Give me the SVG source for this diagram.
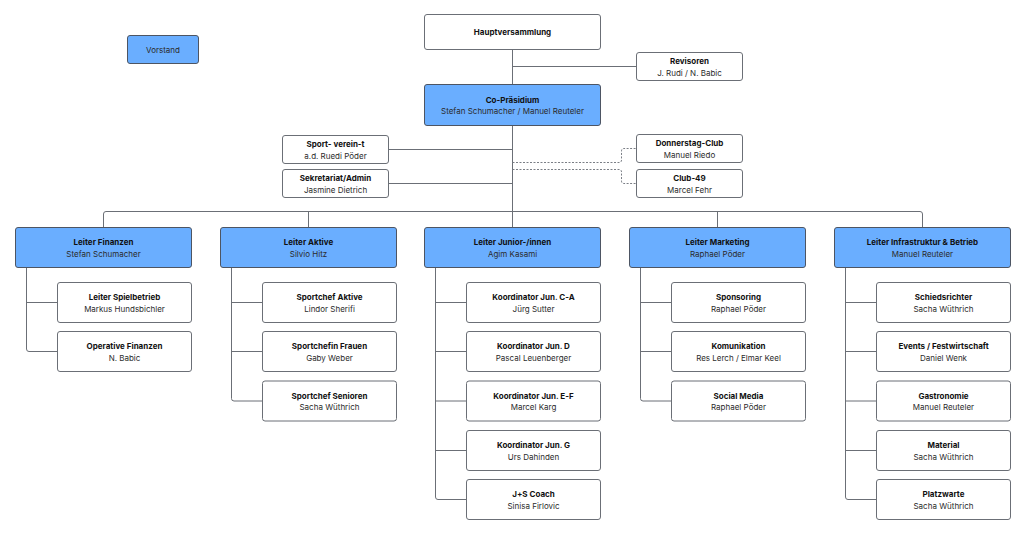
<svg xmlns="http://www.w3.org/2000/svg" width="1024" height="535" viewBox="0 0 1024 535">
<style>
.bg{fill:#ffffff}
.box{fill:#ffffff;stroke:#6b6f76;stroke-width:1}
.lead{fill:#6aaeff;stroke:#4d5563;stroke-width:1}
.ln{fill:none;stroke:#6b6f76;stroke-width:1}
.dash{fill:none;stroke:#7a7e85;stroke-width:1;stroke-dasharray:2 1.5}
text{font-family:Inter,"Liberation Sans",sans-serif;font-size:8px;text-anchor:middle}
.t{font-weight:700;fill:#111111}
.s{fill:#2b2b2b}
</style>
<rect class="bg" x="0" y="0" width="1024" height="535"/>
<g id="connectors">
<path class="ln" d="M512.5 49 V84"/>
<path class="ln" d="M512.5 66.5 H636"/>
<path class="ln" d="M512.5 125 V227"/>
<path class="ln" d="M389 149.5 H512.5"/>
<path class="ln" d="M389 183.5 H512.5"/>
<path class="dash" d="M512.5 162.5 H619 Q621.5 162.5 621.5 160 V151 Q621.5 148.5 624 148.5 H636"/>
<path class="dash" d="M512.5 169.5 H619 Q621.5 169.5 621.5 172 V181 Q621.5 183.5 624 183.5 H636"/>
<path class="ln" d="M103.5 227 V214 Q103.5 211.5 106 211.5 H920 Q922.5 211.5 922.5 214 V227"/>
<path class="ln" d="M308.5 211.5 V227"/>
<path class="ln" d="M717.5 211.5 V227"/>
<path class="ln" d="M26.5 267 V349 Q26.5 351.5 29 351.5 H57 M26.5 302.5 H57"/>
<path class="ln" d="M231.5 267 V398.5 Q231.5 401 234 401 H262 M231.5 302.5 H262 M231.5 351.5 H262"/>
<path class="ln" d="M435.5 267 V497 Q435.5 499.5 438 499.5 H466 M435.5 302.5 H466 M435.5 351.5 H466 M435.5 401 H466 M435.5 450.5 H466"/>
<path class="ln" d="M640.5 267 V398.5 Q640.5 401 643 401 H671 M640.5 302.5 H671 M640.5 351.5 H671"/>
<path class="ln" d="M845.5 267 V497 Q845.5 499.5 848 499.5 H876 M845.5 302.5 H876 M845.5 351.5 H876 M845.5 401 H876 M845.5 450.5 H876"/>
</g>
<g id="vorstand"><rect class="lead" x="127.5" y="35.5" width="71" height="28" rx="2.5"/><text class="s" x="163" y="52.5">Vorstand</text></g>
<g id="hauptversammlung"><rect class="box" x="424.5" y="14.5" width="176" height="35" rx="2.5"/><text class="t" x="512.5" y="35">Hauptversammlung</text></g>
<g id="revisoren"><rect class="box" x="636.5" y="52.5" width="106" height="28" rx="2.5"/><text class="t" x="689.5" y="64">Revisoren</text><text class="s" x="689.5" y="75.5">J. Rudi / N. Babic</text></g>
<g id="copraesidium"><rect class="lead" x="424.5" y="84.5" width="176" height="41" rx="2.5"/><text class="t" x="512.5" y="102.5">Co-Präsidium</text><text class="s" x="512.5" y="114">Stefan Schumacher / Manuel Reuteler</text></g>
<g id="sportvereint"><rect class="box" x="282.5" y="135.5" width="106" height="28" rx="2.5"/><text class="t" x="335.5" y="147">Sport- verein-t</text><text class="s" x="335.5" y="158.5">a.d. Ruedi Pöder</text></g>
<g id="sekretariat"><rect class="box" x="282.5" y="169.5" width="106" height="28" rx="2.5"/><text class="t" x="335.5" y="181">Sekretariat/Admin</text><text class="s" x="335.5" y="192.5">Jasmine Dietrich</text></g>
<g id="donnerstagclub"><rect class="box" x="636.5" y="134.5" width="106" height="28" rx="2.5"/><text class="t" x="689.5" y="146">Donnerstag-Club</text><text class="s" x="689.5" y="157.5">Manuel Riedo</text></g>
<g id="club49"><rect class="box" x="636.5" y="169.5" width="106" height="28" rx="2.5"/><text class="t" x="689.5" y="181">Club-49</text><text class="s" x="689.5" y="192.5">Marcel Fehr</text></g>

<g id="leiter-finanzen"><rect class="lead" x="15.5" y="227.5" width="176" height="40" rx="2.5"/><text class="t" x="103.5" y="245">Leiter Finanzen</text><text class="s" x="103.5" y="256.5">Stefan Schumacher</text></g>
<g id="leiter-aktive"><rect class="lead" x="220.5" y="227.5" width="176" height="40" rx="2.5"/><text class="t" x="308.5" y="245">Leiter Aktive</text><text class="s" x="308.5" y="256.5">Silvio Hitz</text></g>
<g id="leiter-junior"><rect class="lead" x="424.5" y="227.5" width="176" height="40" rx="2.5"/><text class="t" x="512.5" y="245">Leiter Junior-/innen</text><text class="s" x="512.5" y="256.5">Agim Kasami</text></g>
<g id="leiter-marketing"><rect class="lead" x="629.5" y="227.5" width="176" height="40" rx="2.5"/><text class="t" x="717.5" y="245">Leiter Marketing</text><text class="s" x="717.5" y="256.5">Raphael Pöder</text></g>
<g id="leiter-infrastruktur"><rect class="lead" x="834.5" y="227.5" width="176" height="40" rx="2.5"/><text class="t" x="922.5" y="245">Leiter Infrastruktur &amp; Betrieb</text><text class="s" x="922.5" y="256.5">Manuel Reuteler</text></g>

<g id="spielbetrieb"><rect class="box" x="57.5" y="282.5" width="134" height="40" rx="2.5"/><text class="t" x="124.5" y="300">Leiter Spielbetrieb</text><text class="s" x="124.5" y="311.5">Markus Hundsbichler</text></g>
<g id="opfinanzen"><rect class="box" x="57.5" y="331.5" width="134" height="40" rx="2.5"/><text class="t" x="124.5" y="349">Operative Finanzen</text><text class="s" x="124.5" y="360.5">N. Babic</text></g>

<g id="sc-aktive"><rect class="box" x="262.5" y="282.5" width="134" height="40" rx="2.5"/><text class="t" x="329.5" y="300">Sportchef Aktive</text><text class="s" x="329.5" y="311.5">Lindor Sherifi</text></g>
<g id="sc-frauen"><rect class="box" x="262.5" y="331.5" width="134" height="40" rx="2.5"/><text class="t" x="329.5" y="349">Sportchefin Frauen</text><text class="s" x="329.5" y="360.5">Gaby Weber</text></g>
<g id="sc-senioren"><rect class="box" x="262.5" y="381" width="134" height="40" rx="2.5"/><text class="t" x="329.5" y="398.5">Sportchef Senioren</text><text class="s" x="329.5" y="410">Sacha Wüthrich</text></g>

<g id="kj-ca"><rect class="box" x="466.5" y="282.5" width="134" height="40" rx="2.5"/><text class="t" x="533.5" y="300">Koordinator Jun. C-A</text><text class="s" x="533.5" y="311.5">Jürg Sutter</text></g>
<g id="kj-d"><rect class="box" x="466.5" y="331.5" width="134" height="40" rx="2.5"/><text class="t" x="533.5" y="349">Koordinator Jun. D</text><text class="s" x="533.5" y="360.5">Pascal Leuenberger</text></g>
<g id="kj-ef"><rect class="box" x="466.5" y="381" width="134" height="40" rx="2.5"/><text class="t" x="533.5" y="398.5">Koordinator Jun. E-F</text><text class="s" x="533.5" y="410">Marcel Karg</text></g>
<g id="kj-g"><rect class="box" x="466.5" y="430.5" width="134" height="40" rx="2.5"/><text class="t" x="533.5" y="448">Koordinator Jun. G</text><text class="s" x="533.5" y="459.5">Urs Dahinden</text></g>
<g id="js-coach"><rect class="box" x="466.5" y="479.5" width="134" height="40" rx="2.5"/><text class="t" x="533.5" y="497">J+S Coach</text><text class="s" x="533.5" y="508.5">Sinisa Firlovic</text></g>

<g id="sponsoring"><rect class="box" x="671.5" y="282.5" width="134" height="40" rx="2.5"/><text class="t" x="738.5" y="300">Sponsoring</text><text class="s" x="738.5" y="311.5">Raphael Pöder</text></g>
<g id="komunikation"><rect class="box" x="671.5" y="331.5" width="134" height="40" rx="2.5"/><text class="t" x="738.5" y="349">Komunikation</text><text class="s" x="738.5" y="360.5">Res Lerch / Elmar Keel</text></g>
<g id="socialmedia"><rect class="box" x="671.5" y="381" width="134" height="40" rx="2.5"/><text class="t" x="738.5" y="398.5">Social Media</text><text class="s" x="738.5" y="410">Raphael Pöder</text></g>

<g id="schiedsrichter"><rect class="box" x="876.5" y="282.5" width="134" height="40" rx="2.5"/><text class="t" x="943.5" y="300">Schiedsrichter</text><text class="s" x="943.5" y="311.5">Sacha Wüthrich</text></g>
<g id="events"><rect class="box" x="876.5" y="331.5" width="134" height="40" rx="2.5"/><text class="t" x="943.5" y="349">Events / Festwirtschaft</text><text class="s" x="943.5" y="360.5">Daniel Wenk</text></g>
<g id="gastronomie"><rect class="box" x="876.5" y="381" width="134" height="40" rx="2.5"/><text class="t" x="943.5" y="398.5">Gastronomie</text><text class="s" x="943.5" y="410">Manuel Reuteler</text></g>
<g id="material"><rect class="box" x="876.5" y="430.5" width="134" height="40" rx="2.5"/><text class="t" x="943.5" y="448">Material</text><text class="s" x="943.5" y="459.5">Sacha Wüthrich</text></g>
<g id="platzwarte"><rect class="box" x="876.5" y="479.5" width="134" height="40" rx="2.5"/><text class="t" x="943.5" y="497">Platzwarte</text><text class="s" x="943.5" y="508.5">Sacha Wüthrich</text></g>
</svg>
